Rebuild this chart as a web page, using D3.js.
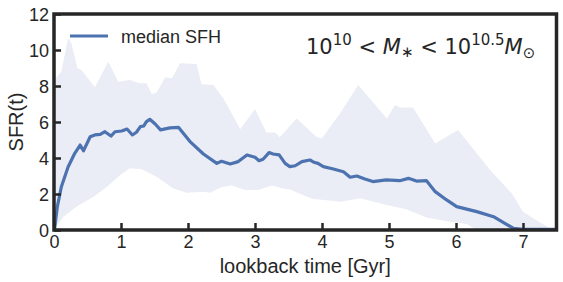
<!DOCTYPE html>
<html>
<head>
<meta charset="utf-8">
<script src="https://cdn.jsdelivr.net/npm/d3@7"></script>
<style>
  body { margin: 0; background: #fff; }
  text { font-family: "Liberation Sans", Arial, sans-serif; fill: #262626; }
</style>
</head>
<body>
<div id="chart"></div>
<script>
// median star formation history
var medianTime = [0.01,0.05,0.11,0.21,0.31,0.39,0.44,0.54,0.61,0.69,0.76,0.85,0.91,1.01,1.09,1.17,1.23,1.29,1.34,1.38,1.43,1.51,1.59,1.73,1.86,2.03,2.23,2.43,2.5,2.63,2.75,2.88,3.0,3.06,3.12,3.21,3.27,3.36,3.45,3.52,3.6,3.7,3.82,3.88,3.94,4.02,4.17,4.32,4.42,4.52,4.64,4.76,4.96,5.16,5.29,5.41,5.56,5.69,5.86,6.01,6.31,6.56,6.71,6.86,7.0,7.5];
var medianSfr = [0.1,1.3,2.4,3.5,4.26,4.72,4.4,5.18,5.28,5.31,5.46,5.22,5.46,5.5,5.61,5.28,5.43,5.74,5.78,6.02,6.15,5.89,5.56,5.67,5.7,4.91,4.22,3.7,3.82,3.67,3.8,4.17,4.04,3.85,3.93,4.3,4.22,4.17,3.7,3.52,3.57,3.8,3.89,3.76,3.7,3.52,3.39,3.24,2.93,3.0,2.83,2.69,2.78,2.74,2.87,2.72,2.74,2.13,1.67,1.3,1.02,0.74,0.41,0.09,0.03,0.03];

// upper edge of the scatter band
var upperTime = [0,0.11,0.21,0.26,0.35,0.41,0.61,0.81,0.96,1.13,1.28,1.38,1.46,1.53,1.66,1.76,1.88,2.13,2.2,2.38,2.53,2.78,3.0,3.17,3.3,3.37,3.62,3.92,4.0,4.27,4.54,4.97,5.09,5.16,5.36,5.69,5.74,6.03,6.51,6.83,7.0,7.4,7.5];
var upperSfr = [8.3,8.8,10.65,10.37,8.98,8.89,7.93,9.35,8.24,8.33,8.15,8.15,7.56,7.63,8.48,8.43,9.26,9.22,8.1,8.06,7.3,5.6,6.72,5.42,5.41,5.15,6.2,5.16,5.1,6.48,8.06,6.2,6.94,6.81,6.8,4.81,4.91,5.56,3.33,2.04,1.02,0.09,0];

// lower edge of the scatter band
var lowerTime = [0,0.14,0.34,0.59,0.79,0.99,1.13,1.31,1.53,1.78,1.98,2.23,2.33,2.48,2.65,2.85,3.05,3.25,3.42,3.52,3.85,4.27,4.57,4.97,5.26,5.56,5.91,6.16,6.31,7.5];
var lowerSfr = [0,0.74,1.3,1.85,2.4,3.06,3.43,3.37,2.96,2.31,2.07,2.13,2.07,2.35,2.48,2.22,2.22,2.47,2.31,2.25,1.73,1.57,1.76,1.39,1.15,0.7,0.46,0.33,0,0];

var xTicks = [0,1,2,3,4,5,6,7];
var yTicks = [0,2,4,6,8,10,12];

var width = 563, height = 282;
var pLeft = 54, pRight = 556.5, pTop = 14, pBottom = 230;

var svg = d3.select('#chart').append('svg')
    .attr('width', width)
    .attr('height', height);

var x = d3.scaleLinear().domain([0, 7.5]).range([pLeft, pRight]);
var y = d3.scaleLinear().domain([0, 12]).range([pBottom, pTop]);

// band polygon: upper edge left to right, then lower edge back
var bandPts = upperTime.map(function(t, i){ return [t, upperSfr[i]]; })
    .concat(lowerTime.map(function(t, i){ return [t, lowerSfr[i]]; }).reverse());

var line = d3.line()
    .x(function(d){ return x(d[0]); })
    .y(function(d){ return y(d[1]); });

svg.append('clipPath').attr('id', 'clip')
    .append('rect')
    .attr('x', pLeft).attr('y', pTop)
    .attr('width', pRight - pLeft).attr('height', pBottom - pTop);

var plot = svg.append('g').attr('clip-path', 'url(#clip)');

plot.append('path')
    .attr('d', line(bandPts) + 'Z')
    .attr('fill', '#eaedf5');

plot.append('path')
    .datum(medianTime.map(function(t, i){ return [t, medianSfr[i]]; }))
    .attr('d', line)
    .attr('fill', 'none')
    .attr('stroke', '#4c72b0')
    .attr('stroke-width', 3.2)
    .attr('stroke-linejoin', 'round');

// axes with inward ticks
var xAxis = svg.append('g')
    .attr('transform', 'translate(0,' + pBottom + ')')
    .call(d3.axisBottom(x).tickValues(xTicks).tickSizeInner(-7).tickSizeOuter(0));
var yAxis = svg.append('g')
    .attr('transform', 'translate(' + pLeft + ',0)')
    .call(d3.axisLeft(y).tickValues(yTicks).tickSizeInner(-7).tickSizeOuter(0));

[xAxis, yAxis].forEach(function(g){
    g.select('.domain').remove();
    g.selectAll('.tick line').attr('stroke', '#262626').attr('stroke-width', 2.5);
    g.selectAll('.tick text')
        .style('font-family', '"Liberation Sans", Arial, sans-serif')
        .style('font-size', '18px')
        .attr('fill', '#262626');
});
xAxis.selectAll('.tick text').attr('y', 5).attr('dy', '0.71em');
yAxis.selectAll('.tick text').attr('x', -5).attr('dy', '0.35em');

svg.append('rect')
    .attr('x', pLeft).attr('y', pTop)
    .attr('width', pRight - pLeft).attr('height', pBottom - pTop)
    .attr('fill', 'none')
    .attr('stroke', '#262626')
    .attr('stroke-width', 3.5);

svg.append('text')
    .attr('x', (pLeft + pRight) / 2).attr('y', 273)
    .attr('text-anchor', 'middle')
    .style('font-size', '20px')
    .text('lookback time [Gyr]');

svg.append('text')
    .attr('transform', 'translate(23,' + ((pTop + pBottom) / 2) + ') rotate(-90)')
    .attr('text-anchor', 'middle')
    .style('font-size', '20px')
    .text('SFR(t)');

// legend
svg.append('line')
    .attr('x1', 70).attr('x2', 108)
    .attr('y1', 36).attr('y2', 36)
    .attr('stroke', '#4c72b0').attr('stroke-width', 3.2);
svg.append('text')
    .attr('x', 121).attr('y', 43)
    .style('font-size', '18px')
    .text('median SFH');

// mass bin annotation
var ann = svg.append('text')
    .attr('x', 306).attr('y', 54)
    .style('font-family', '"DejaVu Sans", sans-serif')
    .style('font-size', '21px');
ann.append('tspan').text('10');
ann.append('tspan').attr('dy', -9).style('font-size', '15px').text('10');
ann.append('tspan').attr('dy', 9).text(' < ');
ann.append('tspan').style('font-style', 'italic').text('M');
ann.append('tspan').attr('dy', 3).style('font-size', '15px').text('\u2217');
ann.append('tspan').attr('dy', -3).text(' < 10');
ann.append('tspan').attr('dy', -9).style('font-size', '15px').text('10.5');
ann.append('tspan').attr('dy', 9).style('font-style', 'italic').text('M');
ann.append('tspan').attr('dy', 4).style('font-size', '15px').text('\u2299');
</script>
</body>
</html>
